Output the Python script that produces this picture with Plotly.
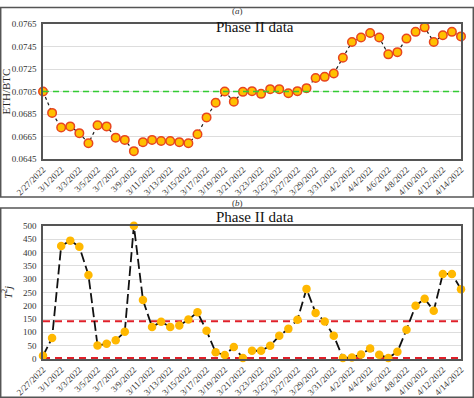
import plotly.graph_objects as go
import datetime as dt

W, H = 474, 398

start = dt.date(2022, 2, 27)
dates = [(start + dt.timedelta(days=i)) for i in range(47)]
date_labels = [f"{d.month}/{d.day}/{d.year}" for d in dates]

eth_btc = [0.0705, 0.0686, 0.0673, 0.0674, 0.0668, 0.0659, 0.0675, 0.0674, 0.0664, 0.0662,
           0.0652, 0.0660, 0.0662, 0.0661, 0.0661, 0.0660, 0.0659, 0.0667, 0.0682, 0.0695,
           0.0705, 0.0696, 0.07047, 0.07053, 0.07029, 0.07071, 0.07071, 0.07035, 0.07053, 0.0708,
           0.0717, 0.0718, 0.0721, 0.0735, 0.0749, 0.0753, 0.0757, 0.0753, 0.0738, 0.0740,
           0.0752, 0.0758, 0.0762, 0.0749, 0.0755, 0.0758, 0.0754]

t2 = [12, 79, 424, 444, 421, 315, 51, 57, 70, 102,
      500, 221, 120, 140, 120, 126, 148, 175, 106, 25,
      15, 45, 4, 31, 31, 50, 87, 113, 147, 263,
      173, 141, 87, 4, 6, 17, 39, 16, 4, 27,
      110, 200, 226, 181, 319, 319, 262]

center_line = 0.0705
ucl = 142
lcl = 4

y_ticks_a = [0.0645, 0.0665, 0.0685, 0.0705, 0.0725, 0.0745, 0.0765]
y_ticks_b = [0, 50, 100, 150, 200, 250, 300, 350, 400, 450, 500]
x_tick_labels = date_labels[::2]

FONT = "Liberation Serif"

def py(p):
    return 1 - p / H

def px_(p):
    return p / W

fig = go.Figure()

fig.add_trace(go.Scatter(
    x=date_labels, y=eth_btc, mode="lines+markers", xaxis="x", yaxis="y",
    line=dict(color="#1a1a1a", width=1.2, dash="3px,3px"),
    marker=dict(size=8.5, color="#FFC000", line=dict(color="#E8451E", width=1.5)),
    cliponaxis=False, showlegend=False))
fig.add_trace(go.Scatter(
    x=[date_labels[0], date_labels[-1]], y=[center_line, center_line], mode="lines",
    xaxis="x", yaxis="y", line=dict(color="#33CC33", width=1.5, dash="6px,4px"),
    showlegend=False))

for v in (ucl, lcl):
    fig.add_trace(go.Scatter(
        x=[date_labels[0], date_labels[-1]], y=[v, v], mode="lines",
        xaxis="x2", yaxis="y2", line=dict(color="#E0202A", width=2, dash="7px,5px"),
        showlegend=False))
fig.add_trace(go.Scatter(
    x=date_labels, y=t2, mode="lines+markers", xaxis="x2", yaxis="y2",
    line=dict(color="#111111", width=1.8, dash="10px,4px"),
    marker=dict(size=8.5, color="#FFB800"),
    cliponaxis=False, showlegend=False))

xdom = [px_(43), px_(461)]
xcommon = dict(type="category", categoryorder="array", categoryarray=date_labels,
               range=[0, 46], tickmode="array",
               tickvals=x_tick_labels, ticktext=x_tick_labels, tickangle=-45,
               tickfont=dict(family=FONT, size=9, color="#333"),
               showgrid=False, showline=True, linecolor="#555", linewidth=1.5,
               mirror=True, ticks="", domain=xdom, automargin=False)
ycommon = dict(showgrid=True, gridcolor="#DDDDDD", gridwidth=1,
               showline=True, linecolor="#555", linewidth=1.5, mirror=True,
               tickfont=dict(family=FONT, size=9, color="#333"),
               ticks="outside", ticklen=3, tickcolor="rgba(0,0,0,0)",
               zeroline=False, automargin=False)

fig.update_layout(
    width=W, height=H, margin=dict(l=0, r=0, t=0, b=0),
    paper_bgcolor="white", plot_bgcolor="white",
    xaxis=dict(**xcommon, anchor="y"),
    xaxis2=dict(**xcommon, anchor="y2"),
    yaxis=dict(**ycommon, anchor="x", domain=[py(159), py(24)],
               range=[0.0645, 0.0765], tickvals=y_ticks_a,
               ticktext=[f"{v:.4f}" for v in y_ticks_a],
               title=dict(text="ETH/BTC", font=dict(family=FONT, size=11, color="#222"), standoff=4)),
    yaxis2=dict(**ycommon, anchor="x2", domain=[py(359), py(225.7)],
                range=[0, 500], tickvals=y_ticks_b,
                title=dict(text="<i>T</i><sup>2</sup><i>j</i>", font=dict(family=FONT, size=11, color="#222"), standoff=12)),
    shapes=[
        dict(type="rect", xref="paper", yref="paper", x0=px_(0.7), x1=px_(473.3),
             y0=py(197), y1=py(7.5), line=dict(color="#555", width=1.5)),
        dict(type="rect", xref="paper", yref="paper", x0=px_(0.7), x1=px_(473.3),
             y0=py(397.3), y1=py(208), line=dict(color="#555", width=1.5)),
    ],
    annotations=[
        dict(text="(<i>a</i>)", x=0.5, y=py(4), xref="paper", yref="paper", showarrow=False,
             font=dict(family=FONT, size=9, color="#333")),
        dict(text="Phase II data", x=px_(255), y=py(16.5), xref="paper", yref="paper", showarrow=False,
             font=dict(family=FONT, size=15, color="#111")),
        dict(text="(<i>b</i>)", x=0.5, y=py(203), xref="paper", yref="paper", showarrow=False,
             font=dict(family=FONT, size=9, color="#333")),
        dict(text="Phase II data", x=px_(255), y=py(217.5), xref="paper", yref="paper", showarrow=False,
             font=dict(family=FONT, size=15, color="#111")),
    ],
)

fig.write_html("out.html", config={"displayModeBar": False},
               post_script="document.body.style.margin='0';document.body.style.overflow='hidden';")
